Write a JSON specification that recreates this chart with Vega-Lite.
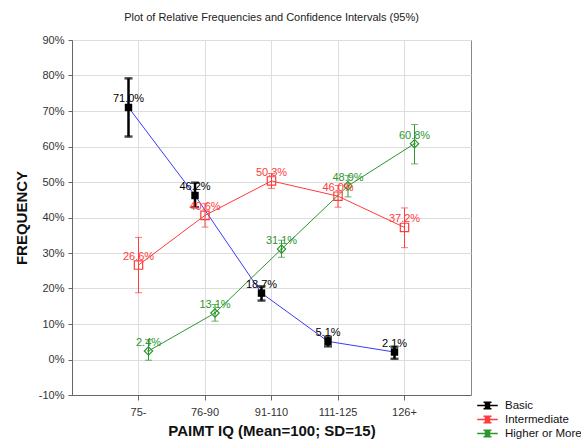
{
  "$schema": "https://vega.github.io/schema/vega-lite/v6.json",
  "autosize": {"type": "none"},
  "width": 399,
  "height": 355,
  "padding": {"left": 72, "top": 40, "right": 110, "bottom": 46},
  "background": "white",
  "config": {
    "font": "Liberation Sans",
    "view": {"stroke": "#888888", "strokeWidth": 1}
  },
  "title": {"text": "Plot of Relative Frequencies and Confidence Intervals (95%)", "fontSize": 11, "fontWeight": "normal", "color": "#222222", "anchor": "middle", "offset": 11},
  "data": {"values": [
    {"cat": "75-", "series": "Basic", "p": 0.710, "lo": 0.628, "hi": 0.792},
    {"cat": "76-90", "series": "Basic", "p": 0.462, "lo": 0.429, "hi": 0.498},
    {"cat": "91-110", "series": "Basic", "p": 0.187, "lo": 0.166, "hi": 0.206},
    {"cat": "111-125", "series": "Basic", "p": 0.051, "lo": 0.037, "hi": 0.064},
    {"cat": "126+", "series": "Basic", "p": 0.021, "lo": 0.002, "hi": 0.036},
    {"cat": "75-", "series": "Intermediate", "p": 0.266, "lo": 0.188, "hi": 0.344},
    {"cat": "76-90", "series": "Intermediate", "p": 0.406, "lo": 0.373, "hi": 0.439},
    {"cat": "91-110", "series": "Intermediate", "p": 0.503, "lo": 0.482, "hi": 0.524},
    {"cat": "111-125", "series": "Intermediate", "p": 0.460, "lo": 0.429, "hi": 0.490},
    {"cat": "126+", "series": "Intermediate", "p": 0.372, "lo": 0.315, "hi": 0.427},
    {"cat": "75-", "series": "Higher or More", "p": 0.024, "lo": -0.002, "hi": 0.056},
    {"cat": "76-90", "series": "Higher or More", "p": 0.131, "lo": 0.108, "hi": 0.155},
    {"cat": "91-110", "series": "Higher or More", "p": 0.311, "lo": 0.288, "hi": 0.336},
    {"cat": "111-125", "series": "Higher or More", "p": 0.489, "lo": 0.458, "hi": 0.518},
    {"cat": "126+", "series": "Higher or More", "p": 0.608, "lo": 0.551, "hi": 0.662}
  ]},
  "encoding": {
    "x": {"field": "cat", "type": "nominal", "sort": ["75-", "76-90", "91-110", "111-125", "126+"],
      "scale": {"type": "band", "paddingInner": 0, "paddingOuter": 0.5},
      "axis": {"title": "PAIMT IQ (Mean=100; SD=15)", "titleFontSize": 15, "titleFontWeight": "bold", "titleColor": "#111111", "titlePadding": 6,
        "labelAngle": 0, "labelFontSize": 11, "labelColor": "#333333", "labelPadding": 6, "tickSize": 5, "tickColor": "#666666", "domainColor": "#666666", "grid": true, "gridColor": "#dddddd"}},
    "xOffset": {"field": "series", "type": "nominal", "scale": {"type": "point", "domain": ["Basic", "Intermediate", "Higher or More"], "range": [23.25, 43.25], "padding": 0}},
    "y": {"field": "p", "type": "quantitative",
      "scale": {"domain": [-0.1, 0.9], "nice": false, "zero": false},
      "axis": {"title": "FREQUENCY", "titleFontSize": 15, "titleFontWeight": "bold", "titleColor": "#111111", "titlePadding": 9,
        "values": [-0.1, 0, 0.1, 0.2, 0.3, 0.4, 0.5, 0.6, 0.7, 0.8, 0.9], "format": ".0%", "labelExpr": "replace(datum.label, '\u2212', '-')", "labelFontSize": 11, "labelColor": "#333333", "labelPadding": 4, "tickSize": 4, "tickColor": "#666666", "domainColor": "#666666", "grid": true, "gridColor": "#dddddd"}},
    "color": {"field": "series", "type": "nominal", "scale": {"domain": ["Basic", "Intermediate", "Higher or More"], "range": ["#000000", "#ff3b3b", "#2e962e"]},
      "legend": {"title": null, "orient": "none", "legendX": 409, "legendY": 359, "labelFontSize": 11.5, "labelColor": "#111111", "labelOffset": 11, "rowPadding": 1,
        "symbolType": "M-1.8,0H1.8M-0.7,-0.55H0.7M-0.7,0.55H0.7M0,-0.55V0.55M-0.35,-0.35H0.35V0.35H-0.35Z", "symbolSize": 130, "symbolStrokeWidth": 1.5, "symbolFillColor": "transparent", "symbolOpacity": 1}}
  },
  "layer": [
    {
      "transform": [{"filter": "datum.series === 'Basic'"}],
      "mark": {"type": "line", "strokeWidth": 1},
      "encoding": {"color": {"value": "#3a3aff"}}
    },
    {
      "transform": [{"filter": "datum.series !== 'Basic'"}],
      "mark": {"type": "line", "strokeWidth": 1}
    },
    {
      "transform": [{"filter": "datum.series === 'Basic'"}],
      "mark": {"type": "rule", "strokeWidth": 2.5},
      "encoding": {"y": {"field": "lo", "type": "quantitative"}, "y2": {"field": "hi"}}
    },
    {
      "transform": [{"filter": "datum.series !== 'Basic'"}],
      "mark": {"type": "rule", "strokeWidth": 1},
      "encoding": {"y": {"field": "lo", "type": "quantitative"}, "y2": {"field": "hi"}}
    },
    {
      "transform": [{"filter": "datum.series === 'Basic'"}],
      "mark": {"type": "tick", "orient": "horizontal", "size": 8, "thickness": 2.5},
      "encoding": {"y": {"field": "lo", "type": "quantitative"}}
    },
    {
      "transform": [{"filter": "datum.series === 'Basic'"}],
      "mark": {"type": "tick", "orient": "horizontal", "size": 8, "thickness": 2.5},
      "encoding": {"y": {"field": "hi", "type": "quantitative"}}
    },
    {
      "transform": [{"filter": "datum.series !== 'Basic'"}],
      "mark": {"type": "tick", "orient": "horizontal", "size": 7, "thickness": 1},
      "encoding": {"y": {"field": "lo", "type": "quantitative"}}
    },
    {
      "transform": [{"filter": "datum.series !== 'Basic'"}],
      "mark": {"type": "tick", "orient": "horizontal", "size": 7, "thickness": 1},
      "encoding": {"y": {"field": "hi", "type": "quantitative"}}
    },
    {
      "transform": [{"filter": "datum.series === 'Basic'"}],
      "mark": {"type": "square", "size": 55, "opacity": 1}
    },
    {
      "transform": [{"filter": "datum.series === 'Intermediate'"}],
      "mark": {"type": "point", "shape": "square", "filled": false, "size": 70, "strokeWidth": 1.2, "opacity": 1}
    },
    {
      "transform": [{"filter": "datum.series === 'Higher or More'"}],
      "mark": {"type": "point", "shape": "diamond", "filled": false, "size": 70, "strokeWidth": 1.2, "opacity": 1}
    },
    {
      "transform": [{"filter": "datum.series === 'Higher or More'"}],
      "mark": {"type": "circle", "size": 5, "opacity": 1}
    },
    {
      "mark": {"type": "text", "fontSize": 11, "dy": -8, "baseline": "middle", "align": "center"},
      "encoding": {
        "text": {"field": "p", "type": "quantitative", "format": ".1%"}
      }
    }
  ]
}
